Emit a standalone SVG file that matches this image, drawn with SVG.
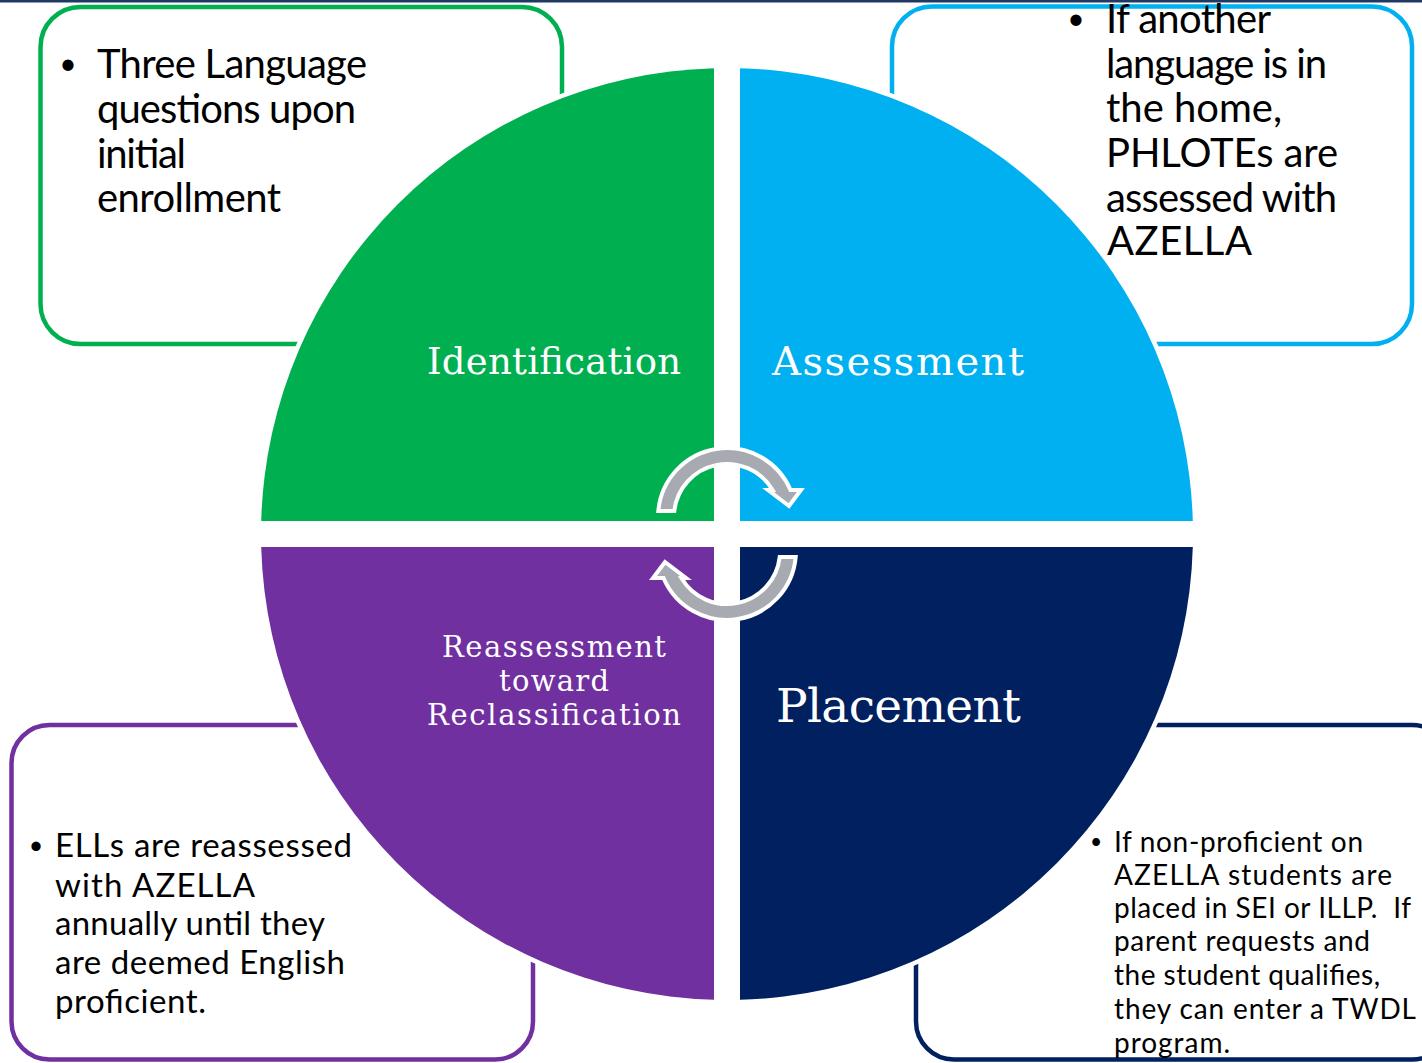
<svg xmlns="http://www.w3.org/2000/svg" width="1422" height="1063" viewBox="0 0 1422 1063">
<style>
.frame{fill:#FFFFFF;stroke-width:4.5}
.body{font-family:Lato,"Gill Sans","Liberation Sans",sans-serif;fill:#000000}
.lbl{font-family:"DejaVu Serif","Liberation Serif",serif;fill:#FFFFFF}
.arrow{fill:#A8AAB2;stroke:#FFFFFF;stroke-width:4;stroke-linejoin:miter}
</style>
<rect x="0" y="0" width="1422" height="1063" fill="#FFFFFF"/>
<rect x="0" y="0" width="1422" height="2.5" fill="#1F3864"/>
<g id="callout-frames">
<rect id="frame-identification" class="frame" x="40.5" y="7" width="521.5" height="337" rx="40" stroke="#00B050"/>
<rect id="frame-assessment" class="frame" x="892" y="6.5" width="520" height="337.5" rx="40" stroke="#00B0F0"/>
<rect id="frame-reassessment" class="frame" x="11.5" y="725" width="521.5" height="334.5" rx="38" stroke="#7030A0"/>
<rect id="frame-placement" class="frame" x="916" y="725" width="534" height="334.5" rx="38" stroke="#002060"/>
</g>
<circle cx="727" cy="534" r="468" fill="none" stroke="#FFFFFF" stroke-width="5"/>
<g id="node-identification">
<path d="M714,521 L714,68.2 A466,466 0 0 0 261.2,521 Z" fill="#00B050"/>
<text class="lbl" x="427" y="374" font-size="37" textLength="254">Identification</text>
</g>
<g id="node-assessment">
<path d="M740,521 L740,68.2 A466,466 0 0 1 1192.8,521 Z" fill="#00B0F0"/>
<text class="lbl" x="772" y="375" font-size="40" textLength="252">Assessment</text>
</g>
<g id="node-reassessment">
<path d="M714,547 L714,999.8 A466,466 0 0 1 261.2,547 Z" fill="#7030A0"/>
<text class="lbl" x="554" y="657" font-size="29" text-anchor="middle" textLength="224">Reassessment</text>
<text class="lbl" x="554" y="691" font-size="29" text-anchor="middle" textLength="110">toward</text>
<text class="lbl" x="554" y="725" font-size="29" text-anchor="middle" textLength="254">Reclassification</text>
</g>
<g id="node-placement">
<path d="M740,547 L740,999.8 A466,466 0 0 0 1192.8,547 Z" fill="#002060"/>
<text class="lbl" x="776" y="722" font-size="47" textLength="245">Placement</text>
</g>
<g id="connectors">
<path id="arrow-top" class="arrow" d="M658.3,511 A69,69 0 0 1 790.5,490 L801,490 L789,506 L768,490 L772.6,490 A53,53 0 0 0 674.3,511 Z"/>
<path id="arrow-bottom" class="arrow" transform="rotate(180 727 534)" d="M658.3,511 A69,69 0 0 1 790.5,490 L801,490 L789,506 L768,490 L772.6,490 A53,53 0 0 0 674.3,511 Z"/>
</g>
<g id="text-identification" class="body" font-size="40">
<text x="68" y="74" font-size="30" text-anchor="middle">•</text>
<text x="97" y="78" textLength="270">Three Language</text>
<text x="97" y="123" textLength="259">questions upon</text>
<text x="97" y="168" textLength="89">initial</text>
<text x="97" y="212" textLength="184">enrollment</text>
</g>
<g id="text-assessment" class="body" font-size="40">
<text x="1076" y="29" font-size="30" text-anchor="middle">•</text>
<text x="1106" y="33" textLength="165">If another</text>
<text x="1106" y="78" textLength="221">language is in</text>
<text x="1106" y="122" textLength="176">the home,</text>
<text x="1106" y="167" textLength="232">PHLOTEs are</text>
<text x="1106" y="212" textLength="231">assessed with</text>
<text x="1107" y="255" textLength="145">AZELLA</text>
</g>
<g id="text-reassessment" class="body" font-size="33">
<text x="36" y="854" font-size="25" text-anchor="middle">•</text>
<text x="55" y="857" textLength="297">ELLs are reassessed</text>
<text x="55" y="897" textLength="200">with AZELLA</text>
<text x="55" y="935" textLength="270">annually until they</text>
<text x="55" y="974" textLength="290">are deemed English</text>
<text x="55" y="1013" textLength="151">proficient.</text>
</g>
<g id="text-placement" class="body" font-size="28">
<text x="1096" y="849" font-size="21" text-anchor="middle">•</text>
<text x="1114" y="852" textLength="249">If non-proficient on</text>
<text x="1114" y="885" textLength="278">AZELLA students are</text>
<text x="1114" y="918" textLength="297">placed in SEI or ILLP.&#160; If</text>
<text x="1114" y="951" textLength="256">parent requests and</text>
<text x="1114" y="985" textLength="266">the student qualifies,</text>
<text x="1114" y="1019" textLength="302">they can enter a TWDL</text>
<text x="1114" y="1053" textLength="116">program.</text>
</g>
</svg>
